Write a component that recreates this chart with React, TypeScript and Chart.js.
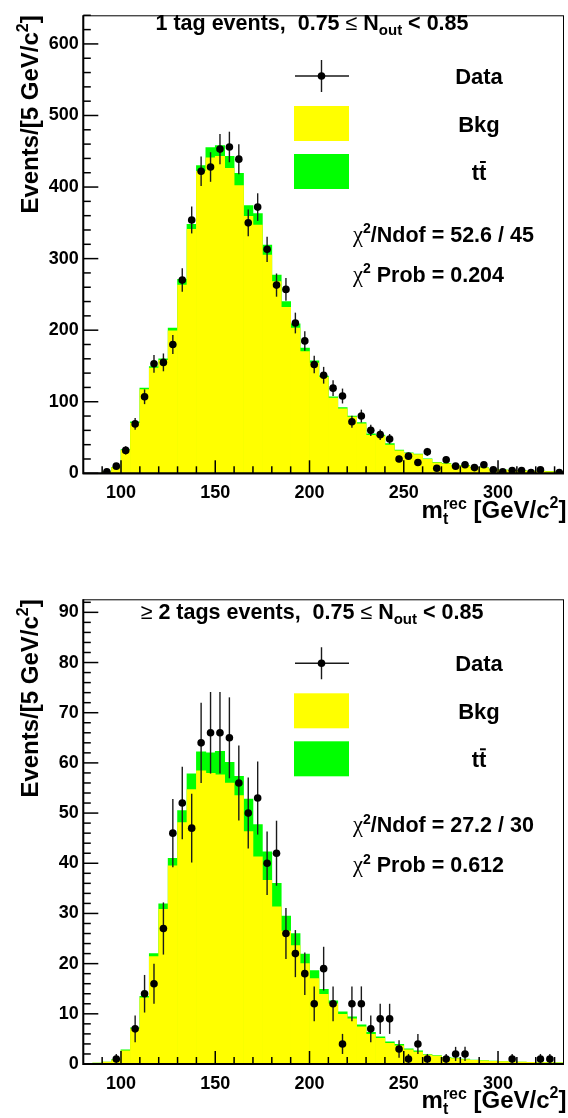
import React, { useEffect, useRef } from "react";
import { Chart, registerables } from "chart.js";

Chart.register(...registerables);

// ---------------- data ----------------
const binCenters = [
  82.5, 87.5, 92.5, 97.5, 102.5, 107.5, 112.5, 117.5, 122.5, 127.5,
  132.5, 137.5, 142.5, 147.5, 152.5, 157.5, 162.5, 167.5, 172.5, 177.5,
  182.5, 187.5, 192.5, 197.5, 202.5, 207.5, 212.5, 217.5, 222.5, 227.5,
  232.5, 237.5, 242.5, 247.5, 252.5, 257.5, 262.5, 267.5, 272.5, 277.5,
  282.5, 287.5, 292.5, 297.5, 302.5, 307.5, 312.5, 317.5, 322.5, 327.5,
  332.5,
];

// 1 tag events
const tag1Data = [
  0, 0, 2, 10, 32, 69, 107, 153, 155, 180,
  270, 354, 422, 428, 453, 456, 439, 350, 372, 313,
  263, 257, 210, 185, 152, 137, 119, 108, 72, 80,
  60, 54, 48, 20, 24, 15, 30, 7, 19, 10,
  12, 8, 12, 5, 2, 4, 4, 1, 5, 0,
  1,
];
const tag1Bkg = [
  0, 0, 2, 8, 32, 70, 117, 147, 158, 199,
  263, 341, 422, 441, 443, 426, 402, 359, 347, 305,
  268, 232, 203, 170, 154, 134, 105, 90, 78.5, 69,
  53, 52, 39.6, 31.5, 28, 26, 19.5, 14.5, 13.3, 10.5,
  10.5, 8, 7.6, 5.7, 4.5, 4, 3.5, 3, 2.8, 2.5,
  2.2,
];
const tag1BkgPlusTop = [
  0, 0, 2, 8.5, 33, 72, 119, 149, 160, 203,
  271, 348, 430, 455, 458, 443, 419, 374, 363, 319,
  277, 240, 209, 175, 157, 136, 107, 92, 80, 71,
  55, 53.5, 41.5, 32.3, 28.5, 26.7, 20.2, 15.2, 13.8, 11,
  11, 8.3, 8, 6, 4.8, 4.2, 3.7, 3.2, 3, 2.7,
  2.4,
];

// >= 2 tags events
const tag2Data = [
  0, 0, 0, 1, 0, 7, 14, 16, 27, 46,
  52, 47, 64, 66, 66, 65, 56, 50, 53, 40,
  42, 26, 22, 18, 12, 19, 12, 4, 12, 12,
  7, 9, 9, 3, 1, 4, 1, 0, 1, 2,
  2, 0, 0, 0, 0, 1, 0, 0, 1, 1,
  0,
];
const tag2Bkg = [
  0.1, 0.2, 0.4, 0.8, 2.6, 7, 13.2, 21.4, 30.8, 39.5,
  48.1, 54.7, 58.4, 57.9, 57.6, 56, 53.5, 46.3, 41.3, 36.6,
  31.3, 26.5, 23.6, 20, 17, 13.9, 12, 9.9, 9, 7.4,
  5.9, 5.1, 4.1, 3.6, 2.8, 2.4, 1.8, 1.6, 1.2, 1.1,
  0.9, 0.75, 0.65, 0.55, 0.5, 0.45, 0.4, 0.35, 0.3, 0.3,
  0.25,
];
const tag2BkgPlusTop = [
  0.1, 0.2, 0.4, 0.9, 2.8, 7.2, 13.5, 22, 31.9, 41,
  50.5, 57.8, 62.2, 62, 62.3, 60.1, 57.3, 52.8, 47.7, 42.3,
  36, 29.5, 26, 21.9, 18.6, 14.9, 12.6, 10.4, 9.4, 7.8,
  6.3, 5.4, 4.4, 3.9, 3, 2.6, 1.9, 1.7, 1.3, 1.2,
  1, 0.8, 0.7, 0.6, 0.5, 0.45, 0.4, 0.35, 0.3, 0.3,
  0.25,
];

const xMin = 80;
const xMax = 335;

// ---------------- styling ----------------
const SANS = '"Liberation Sans", Arial, Helvetica, sans-serif';
const SERIF = '"Liberation Serif", "Times New Roman", serif';
const b = (s: number) => `bold ${s}px ${SANS}`;
const n = (s: number) => `${s}px ${SANS}`;
const sf = (s: number) => `${s}px ${SERIF}`;

interface Part {
  t: string;
  font: string;
  dy?: number;
  zero?: boolean;
  bar?: boolean;
}

function drawRich(
  ctx: CanvasRenderingContext2D,
  parts: Part[],
  x: number,
  y: number,
  align: "left" | "center" | "right"
) {
  let total = 0;
  for (const p of parts) {
    ctx.font = p.font;
    if (!p.zero) total += ctx.measureText(p.t).width;
  }
  let cx = align === "left" ? x : align === "center" ? x - total / 2 : x - total;
  ctx.textAlign = "left";
  ctx.textBaseline = "alphabetic";
  ctx.fillStyle = "#000";
  for (const p of parts) {
    ctx.font = p.font;
    const w = ctx.measureText(p.t).width;
    ctx.fillText(p.t, cx, y + (p.dy || 0));
    if (p.bar) {
      ctx.save();
      ctx.strokeStyle = "#000";
      ctx.lineWidth = 2;
      ctx.beginPath();
      ctx.moveTo(cx + 1, y - 17.5);
      ctx.lineTo(cx + w - 0.5, y - 17.5);
      ctx.stroke();
      ctx.restore();
    }
    if (!p.zero) cx += w;
  }
}

interface PanelCfg {
  data: number[];
  bkg: number[];
  total: number[];
  yMax: number;
  yMajor: number;
  yMinor: number;
  top: number; // chart area top (canvas coords)
  bottom: number; // chart area bottom
  title: Part[];
  titleY: number;
  legY: number;
  chi1: Part[];
  chi2: Part[];
  chiY1: number;
  chiY2: number;
}

const LEFT = 83.3;
const RIGHT = 566.5;
const CANVAS_H = 559;
const TF = 21.5; // text font size

function makeDecor(cfg: PanelCfg) {
  return {
    id: "decor",
    beforeDatasetDraw(chart: any, args: any) {
      if (args.index !== 0) return;
      const ctx: CanvasRenderingContext2D = chart.ctx;
      const xs = chart.scales.x;
      const ys = chart.scales.y;
      ctx.save();
      ctx.strokeStyle = "#1a1a1a";
      ctx.lineWidth = 1.4;
      cfg.data.forEach((v, i) => {
        if (v <= 0) return;
        const e = Math.sqrt(v);
        const px = xs.getPixelForValue(binCenters[i]);
        const y1 = Math.max(ys.getPixelForValue(v + e), chart.chartArea.top);
        const y2 = Math.min(ys.getPixelForValue(Math.max(v - e, 0)), chart.chartArea.bottom);
        ctx.beginPath();
        ctx.moveTo(px, y1);
        ctx.lineTo(px, y2);
        ctx.stroke();
      });
      ctx.restore();
    },
    afterDraw(chart: any) {
      const ctx: CanvasRenderingContext2D = chart.ctx;
      const area = chart.chartArea;
      const xs = chart.scales.x;
      const ys = chart.scales.y;
      ctx.save();
      // ticks
      ctx.strokeStyle = "#000";
      ctx.lineWidth = 1.5;
      for (let v = 90; v < xMax; v += 10) {
        const px = xs.getPixelForValue(v);
        const len = v % 50 === 0 ? 13 : 7;
        ctx.beginPath();
        ctx.moveTo(px, area.bottom);
        ctx.lineTo(px, area.bottom - len);
        ctx.stroke();
      }
      for (let v = 0; v <= cfg.yMax + 1e-6; v += cfg.yMinor) {
        const py = ys.getPixelForValue(v);
        const major = Math.abs(v / cfg.yMajor - Math.round(v / cfg.yMajor)) < 1e-6;
        const len = major ? 15 : 7.5;
        ctx.beginPath();
        ctx.moveTo(area.left, py);
        ctx.lineTo(area.left + len, py);
        ctx.stroke();
      }
      // frame
      ctx.lineWidth = 1;
      ctx.strokeRect(area.left, area.top + 0.5, area.right - area.left - 0.5, area.bottom - area.top);
      ctx.lineWidth = 2;
      ctx.beginPath();
      ctx.moveTo(area.left, area.top);
      ctx.lineTo(area.left, area.bottom);
      ctx.lineTo(area.right, area.bottom);
      ctx.stroke();

      // title
      drawRich(ctx, cfg.title, 312, cfg.titleY, "center");

      // legend
      const lx1 = 294;
      const lx2 = 349;
      const lcx = (lx1 + lx2) / 2;
      const dY = cfg.legY;
      ctx.strokeStyle = "#1a1a1a";
      ctx.lineWidth = 1.4;
      ctx.beginPath();
      ctx.moveTo(lx1 + 1, dY);
      ctx.lineTo(lx2, dY);
      ctx.moveTo(lcx, dY - 16);
      ctx.lineTo(lcx, dY + 16);
      ctx.stroke();
      ctx.fillStyle = "#000";
      ctx.beginPath();
      ctx.arc(lcx, dY, 3.8, 0, Math.PI * 2);
      ctx.fill();
      ctx.fillStyle = "#ffff00";
      ctx.fillRect(lx1, dY + 30, lx2 - lx1, 35);
      ctx.fillStyle = "#00ff00";
      ctx.fillRect(lx1, dY + 78, lx2 - lx1, 35);
      drawRich(ctx, [{ t: "Data", font: b(22) }], 479, dY + 8, "center");
      drawRich(ctx, [{ t: "Bkg", font: b(22) }], 479, dY + 55.5, "center");
      drawRich(
        ctx,
        [
          { t: "t", font: b(22) },
          { t: "t", font: b(22), bar: true },
        ],
        479,
        dY + 103.5,
        "center"
      );

      // chi2 texts
      drawRich(ctx, cfg.chi1, 353, cfg.chiY1, "left");
      drawRich(ctx, cfg.chi2, 353, cfg.chiY2, "left");

      // x axis title
      drawRich(
        ctx,
        [
          { t: "m", font: b(24) },
          { t: "t", font: b(16), dy: 6, zero: true },
          { t: "rec", font: b(16), dy: -9 },
          { t: " [GeV/c", font: b(24) },
          { t: "2", font: b(16), dy: -10 },
          { t: "]", font: b(24) },
        ],
        RIGHT,
        area.bottom + 44.3,
        "right"
      );

      // y axis title
      ctx.save();
      ctx.translate(38, area.top);
      ctx.rotate(-Math.PI / 2);
      drawRich(
        ctx,
        [
          { t: "Events/[5 GeV/c", font: b(24) },
          { t: "2", font: b(16), dy: -10 },
          { t: "]", font: b(24) },
        ],
        0,
        0,
        "right"
      );
      ctx.restore();
      ctx.restore();
    },
  };
}

const chiParts = (a: string): Part[] => [
  { t: "χ", font: sf(TF + 1) },
  { t: "2", font: b(14), dy: -8.5 },
  { t: a, font: b(TF) },
];

const panels: PanelCfg[] = [
  {
    data: tag1Data,
    bkg: tag1Bkg,
    total: tag1BkgPlusTop,
    yMax: 640,
    yMajor: 100,
    yMinor: 20,
    top: 11,
    bottom: 473.3,
    title: [
      { t: "1 tag events,  0.75 ", font: b(TF) },
      { t: "≤", font: n(TF) },
      { t: " N", font: b(TF) },
      { t: "out", font: b(15), dy: 5 },
      { t: " < 0.85", font: b(TF) },
    ],
    titleY: 30,
    legY: 76,
    chi1: chiParts("/Ndof = 52.6 / 45"),
    chi2: chiParts(" Prob = 0.204"),
    chiY1: 241.7,
    chiY2: 281.7,
  },
  {
    data: tag2Data,
    bkg: tag2Bkg,
    total: tag2BkgPlusTop,
    yMax: 92.6,
    yMajor: 10,
    yMinor: 2,
    top: 40.3,
    bottom: 505,
    title: [
      { t: "≥", font: n(TF) },
      { t: " 2 tags events,  0.75 ", font: b(TF) },
      { t: "≤", font: n(TF) },
      { t: " N", font: b(TF) },
      { t: "out", font: b(15), dy: 5 },
      { t: " < 0.85", font: b(TF) },
    ],
    titleY: 59.5,
    legY: 104.3,
    chi1: chiParts("/Ndof = 27.2 / 30"),
    chi2: chiParts(" Prob = 0.612"),
    chiY1: 273.4,
    chiY2: 313.4,
  },
];

function Panel({ cfg, top }: { cfg: PanelCfg; top: number }) {
  const ref = useRef<HTMLCanvasElement | null>(null);
  useEffect(() => {
    if (!ref.current) return;
    const tickFont = { family: "Liberation Sans", size: 18, weight: "bold" as const };
    const chart = new Chart(ref.current, {
      type: "bar",
      data: {
        datasets: [
          {
            type: "scatter",
            label: "Data",
            data: binCenters.map((x, i) => ({ x, y: cfg.data[i] > 0 ? cfg.data[i] : null })),
            order: 0,
            pointRadius: 3.8,
            pointBackgroundColor: "#000",
            pointBorderColor: "#000",
            pointBorderWidth: 0,
            showLine: false,
          } as any,
          {
            type: "bar",
            label: "Bkg",
            data: binCenters.map((x, i) => ({ x, y: cfg.bkg[i] })),
            backgroundColor: "#ffff00",
            borderWidth: 0,
            grouped: false,
            categoryPercentage: 1,
            barPercentage: 1,
            order: 1,
          } as any,
          {
            type: "bar",
            label: "tt",
            data: binCenters.map((x, i) => ({ x, y: cfg.total[i] })),
            backgroundColor: "#00ff00",
            borderWidth: 0,
            grouped: false,
            categoryPercentage: 1,
            barPercentage: 1,
            order: 2,
          } as any,
        ],
      },
      options: {
        animation: false,
        responsive: false,
        maintainAspectRatio: false,
        layout: { padding: { top: cfg.top, right: 568 - RIGHT, left: 0, bottom: 0 } },
        scales: {
          x: {
            type: "linear",
            min: xMin,
            max: xMax,
            offset: false,
            grid: { display: false, drawTicks: false },
            border: { display: false },
            ticks: {
              stepSize: 50,
              includeBounds: false,
              padding: 9,
              font: tickFont,
              color: "#000",
              maxRotation: 0,
              autoSkip: false,
            },
            afterFit: (s: any) => {
              s.height = CANVAS_H - cfg.bottom;
            },
          },
          y: {
            type: "linear",
            min: 0,
            max: cfg.yMax,
            grid: { display: false, drawTicks: false },
            border: { display: false },
            ticks: {
              stepSize: cfg.yMajor,
              includeBounds: false,
              padding: 4.5,
              font: tickFont,
              color: "#000",
            },
            afterFit: (s: any) => {
              s.width = LEFT;
            },
          },
        },
        plugins: {
          legend: { display: false },
          tooltip: { enabled: false },
        },
      } as any,
      plugins: [makeDecor(cfg) as any],
    });
    return () => chart.destroy();
  }, [cfg]);
  return (
    <canvas
      ref={ref}
      width={568}
      height={CANVAS_H}
      style={{ position: "absolute", left: 0, top, width: 568, height: CANVAS_H }}
    />
  );
}

export default function App() {
  return (
    <div
      style={{
        position: "absolute",
        left: 0,
        top: 0,
        width: 568,
        height: 1118,
        background: "#fff",
        overflow: "hidden",
      }}
    >
      <Panel cfg={panels[0]} top={0} />
      <Panel cfg={panels[1]} top={CANVAS_H} />
    </div>
  );
}
